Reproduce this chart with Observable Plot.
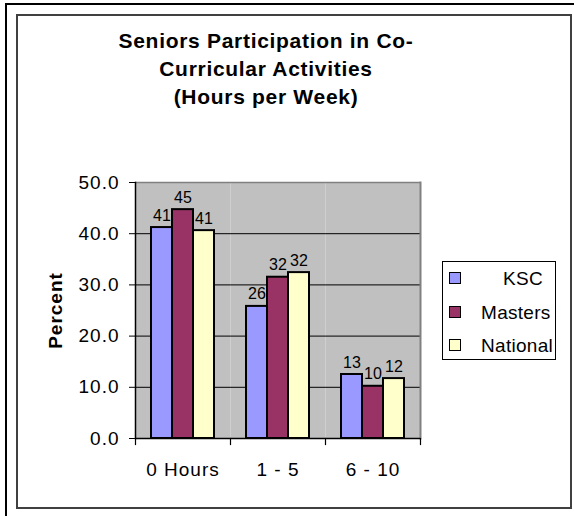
<!DOCTYPE html>
<html><head><meta charset="utf-8">
<script src="https://cdn.jsdelivr.net/npm/d3@7"></script>
<script src="https://cdn.jsdelivr.net/npm/@observablehq/plot@0.6"></script>
<style>
body{margin:0;background:#fff;font-family:"Liberation Sans",Arial,sans-serif;}
#wrap{position:relative;width:574px;height:516px;overflow:hidden;background:#fff;}
.outer{position:absolute;left:5px;top:3px;width:700px;height:700px;border-top:2px solid #000;border-left:2px solid #000;}
.inner{position:absolute;left:16px;top:14px;width:552px;height:491px;border:2px solid #404040;}
#chart{position:absolute;left:0;top:0;}
#chart svg{letter-spacing:1px;}
#chart g[font-size="16"], #chart g[font-size="16"] text{letter-spacing:0;}
#title{position:absolute;left:0;top:27px;width:532px;text-align:center;font-weight:bold;font-size:21px;line-height:28px;color:#000;letter-spacing:0.7px;}
#legend{position:absolute;left:442px;top:261px;width:112px;height:97px;border:1px solid #000;background:#fff;}
.item{position:absolute;left:0;height:24px;width:112px;font-size:19px;line-height:24px;color:#000;letter-spacing:0.3px;}
.sw{position:absolute;left:6px;top:5px;width:10px;height:10px;border:1.5px solid #000;}
.lab{position:absolute;white-space:nowrap;}
</style>
</head><body>
<div id="wrap">
  <div class="outer"></div>
  <div class="inner"></div>
  <div id="chart"></div>
  <div id="title"></div>
  <div id="legend"></div>
</div>
<script>
const titleLines = ["Seniors Participation in Co-", "Curricular Activities", "(Hours per Week)"];
const categories = ["0 Hours", "1 - 5", "6 - 10"];
const series = ["KSC", "Masters", "National"];
const ksc = [41.2, 25.8, 12.5];
const masters = [44.7, 31.5, 10.2];
const national = [40.6, 32.4, 11.7];
const colors = ["#9999FF", "#993366", "#FFFFCC"];
const yTicks = [0, 10, 20, 30, 40, 50];
const yLabel = "Percent";

const seriesValues = [ksc, masters, national];
const data = categories.flatMap((c, i) => series.map((s, j) => ({category: c, series: s, value: seriesValues[j][i]})));

const plot = Plot.plot({
  width: 574, height: 516,
  marginLeft: 135, marginRight: 154, marginTop: 182, marginBottom: 78,
  style: {background: "transparent", fontFamily: "Liberation Sans, Arial, sans-serif", color: "#000", overflow: "visible"},
  fx: {domain: categories, padding: 0, label: null},
  x: {domain: series, paddingInner: 0, paddingOuter: 0.73, axis: null},
  y: {domain: [0, 50], label: null},
  color: {domain: series, range: colors},
  marks: [
    Plot.frame({fill: "#C0C0C0", stroke: null}),
    Plot.ruleY(yTicks.filter(t => t > 0 && t < 50), {stroke: "#000", strokeWidth: 1}),
    Plot.ruleY([50], {stroke: "#808080", strokeWidth: 1.5}),
    Plot.frame({anchor: "right", facetAnchor: "right", stroke: "#808080", strokeWidth: 2}),
    Plot.barY(data, {fx: "category", x: "series", y: "value", fill: "series", stroke: "#000", strokeWidth: 2}),
    Plot.text(data, {fx: "category", x: "series", y: "value", text: d => String(Math.round(d.value)), lineAnchor: "bottom", dy: -7, fontSize: 16, fill: "#000"}),
    Plot.ruleY([0], {stroke: "#000", strokeWidth: 1.5}),
    Plot.frame({anchor: "left", facetAnchor: "left", stroke: "#000", strokeWidth: 1.5}),
    Plot.axisY({ticks: yTicks, tickFormat: d => d.toFixed(1), tickSize: 6, tickPadding: 10, fontSize: 19, label: null}),
    Plot.text([yLabel], {frameAnchor: "left", textAnchor: "middle", rotate: -90, dx: -80, fontWeight: "bold", fontSize: 19, facetAnchor: "left", fill: "#000"}),
    Plot.axisFx({anchor: "bottom", tickSize: 0, tickPadding: 24, fontSize: 19, label: null}),
    Plot.frame({anchor: "left", insetTop: 256, insetBottom: -6, stroke: "#000", strokeWidth: 1.2}),
    Plot.frame({anchor: "right", facetAnchor: "right", insetTop: 256, insetBottom: -6, stroke: "#000", strokeWidth: 1.2})
  ]
});
document.getElementById("chart").appendChild(plot);

document.getElementById("title").innerHTML = titleLines.join("<br>");

const color = plot.scale("color");
const legend = document.getElementById("legend");
const labelLeft = {"KSC": 60, "Masters": 38, "National": 38};
series.forEach((s, i) => {
  const item = document.createElement("div");
  item.className = "item";
  item.style.top = (5 + i * 33.5) + "px";
  const sw = document.createElement("div");
  sw.className = "sw";
  sw.style.background = color.apply(s);
  const lab = document.createElement("div");
  lab.className = "lab";
  lab.style.left = labelLeft[s] + "px";
  lab.textContent = s;
  item.appendChild(sw);
  item.appendChild(lab);
  legend.appendChild(item);
});
</script>
</body></html>
